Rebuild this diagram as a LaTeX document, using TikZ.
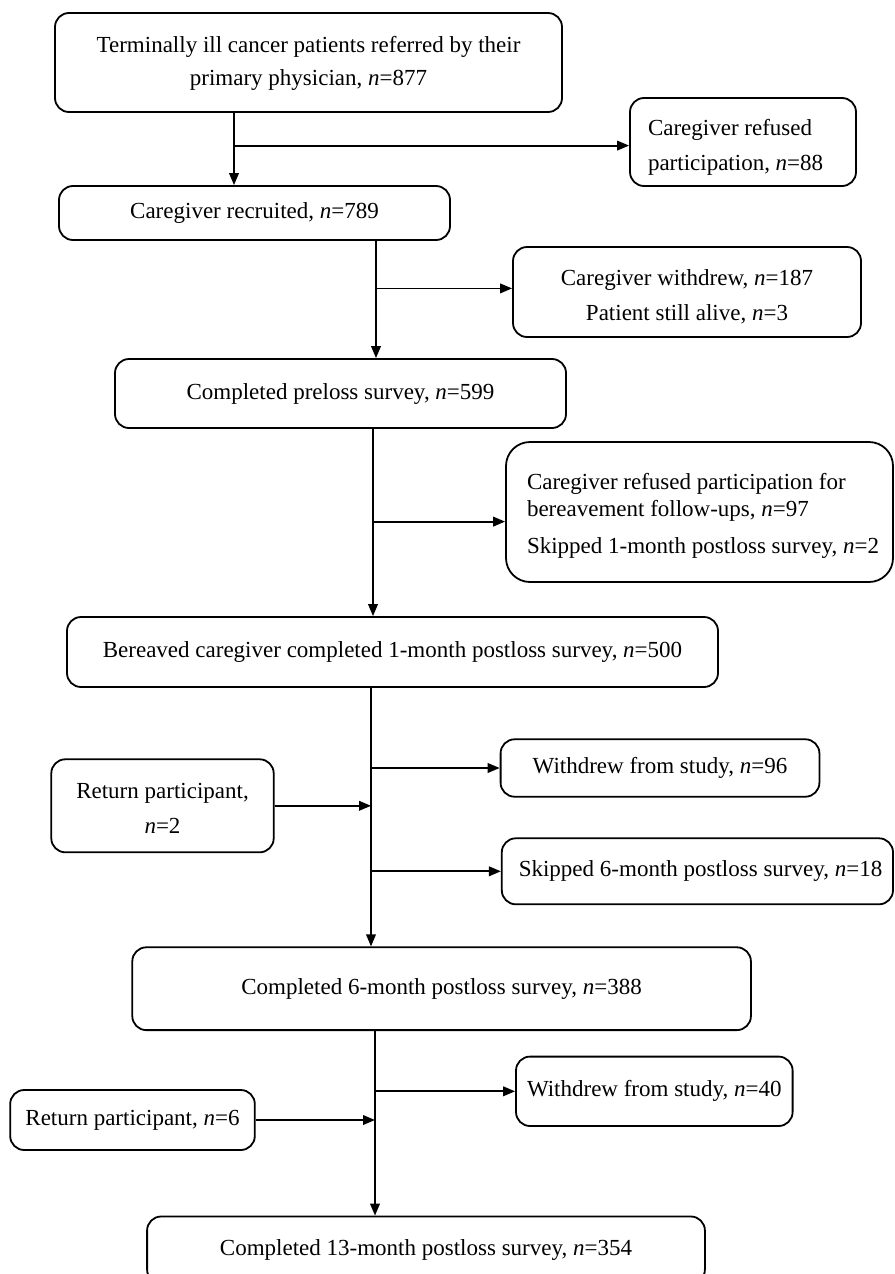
\documentclass[tikz,border=0pt]{standalone}
\usepackage{fontspec}
\setmainfont{Liberation Serif}
\usetikzlibrary{arrows.meta}
\newcommand\Nv{\textit{n}}
\newcommand\Tup[1]{\rule{0pt}{#1}}
\begin{document}
\begin{tikzpicture}[x=0.5pt,y=-0.5pt,
  box/.style={draw, line width=0.9pt, rounded corners=7pt, inner sep=0pt, align=center,
    font=\fontsize{11.5}{16.5}\selectfont},
  lbox/.style={box, align=left, execute at begin node={\spaceskip=0pt\xspaceskip=0pt\relax}},
  arr/.style={line width=0.9pt, -{Triangle[length=6pt,width=4.8pt]}}]
\clip (0,0) rectangle (894,1274);
% main column
\node[box, minimum width=253.5pt, minimum height=49.5pt] (b1) at (308.5,62.5)
  {\Tup{8.8pt}Terminally ill cancer patients referred by their\\[0pt]primary physician, \Nv=877};
\node[box, minimum width=195.5pt, minimum height=27pt] (b2) at (254.5,213)
  {Caregiver recruited, \Nv=789};
\node[box, minimum width=225.5pt, minimum height=34.5pt] (b3) at (340.5,393.5)
  {Completed preloss survey, \Nv=599};
\node[box, minimum width=325.5pt, minimum height=35pt] (b4) at (392.5,652)
  {Bereaved caregiver completed 1-month postloss survey, \Nv=500};
\node[box, minimum width=309.3pt, minimum height=41.4pt] (b5) at (441.6,988.7)
  {Completed 6-month postloss survey, \Nv=388};
\node[box, minimum width=278.9pt, minimum height=33.5pt] (b6) at (426,1250)
  {Completed 13-month postloss survey, \Nv=354};
% side boxes
\node[lbox, inner xsep=9pt, text width=95pt, minimum height=44pt] (ref) at (743,142)
  {\Tup{13.9pt}Caregiver refused\\[1pt]participation, \Nv=88};
\node[box, minimum width=174pt, minimum height=45pt] (wd1) at (687,292)
  {\Tup{12.9pt}Caregiver withdrew, \Nv=187\\[1pt]Patient still alive, \Nv=3};
\node[lbox, rounded corners=12pt, inner xsep=10.5pt, text width=172.5pt, minimum height=70pt] (fu) at (699.5,512)
  {\Tup{11.9pt}\mbox{Caregiver refused participation for}\\[-3.2pt]\mbox{bereavement follow-ups, \Nv=97}\\[1.8pt]\mbox{Skipped 1-month postloss survey, \Nv=2}};
\node[box, minimum width=159.4pt, minimum height=28.7pt] (wd2) at (660,768)
  {Withdrew from study, \Nv=96};
\node[box, minimum width=111.2pt, minimum height=46.5pt] (r2) at (162.5,805.8)
  {\Tup{10.4pt}Return participant,\\[1pt]\Nv=2};
\node[lbox, inner xsep=8.5pt, text width=178.6pt, minimum height=33pt] (sk) at (697.4,871.3)
  {\mbox{Skipped 6-month postloss survey, \Nv=18}};
\node[box, minimum width=138.3pt, minimum height=34.7pt] (wd3) at (654.3,1091.3)
  {Withdrew from study, \Nv=40};
\node[box, minimum width=122.3pt, minimum height=30pt] (r6) at (132.5,1120)
  {Return participant, \Nv=6};
% trunk x positions
\coordinate (c1) at (234,0);
\coordinate (c2) at (376,0);
\coordinate (c3) at (373,0);
\coordinate (c4) at (371,0);
\coordinate (c5) at (375,0);
\coordinate (refin) at ([yshift=-1.8pt]ref.west);
\coordinate (fuin) at ([yshift=-4.8pt]fu.west);
\coordinate (wd1in) at ([yshift=1.8pt]wd1.west);
% connectors
\draw[arr] (b1.south -| c1) -- (b2.north -| c1);
\draw[arr] (refin -| c1) -- (refin);
\draw[arr] (b2.south -| c2) -- (b3.north -| c2);
\draw[arr] (wd1in -| c2) -- (wd1in);
\draw[arr] (b3.south -| c3) -- (b4.north -| c3);
\draw[arr] (fuin -| c3) -- (fuin);
\draw[arr] (b4.south -| c4) -- (b5.north -| c4);
\draw[arr] (wd2.west -| c4) -- (wd2.west);
\draw[arr] (sk.west -| c4) -- (sk.west);
\draw[arr] (r2.east) -- (r2.east -| c4);
\draw[arr] (b5.south -| c5) -- (b6.north -| c5);
\draw[arr] (wd3.west -| c5) -- (wd3.west);
\draw[arr] (r6.east) -- (r6.east -| c5);
\end{tikzpicture}
\end{document}
